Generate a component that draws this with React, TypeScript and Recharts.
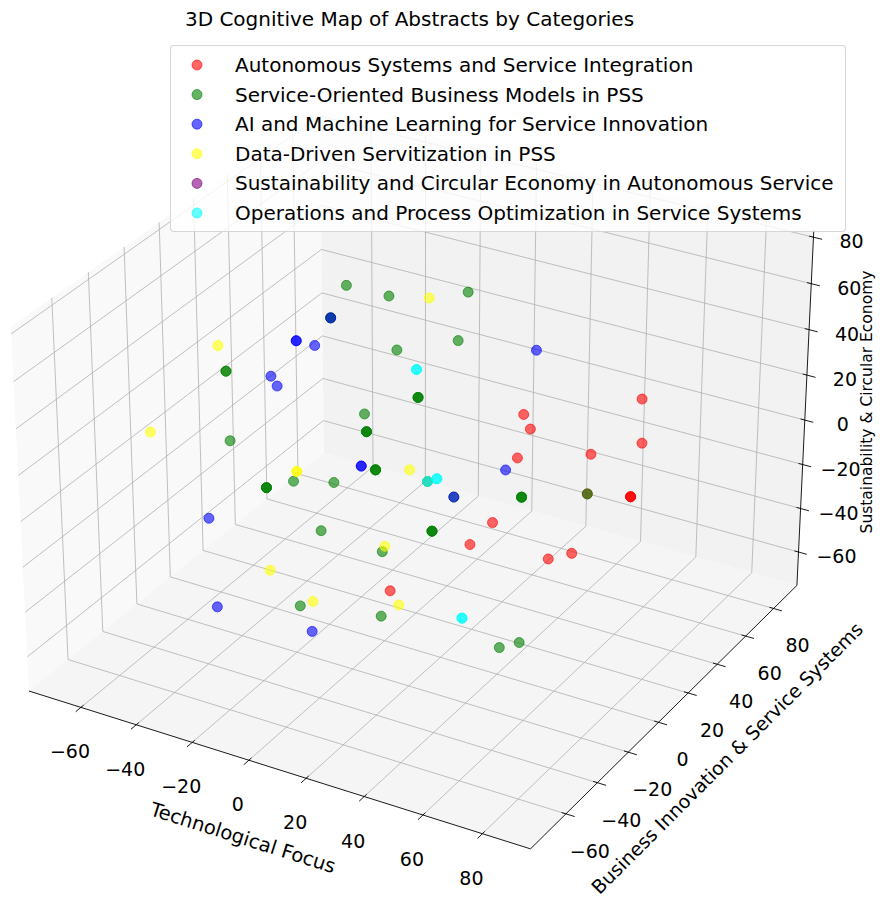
import React from "react";
import { ScatterChart, Scatter, XAxis, YAxis, Legend } from "recharts";

const TITLE = "3D Cognitive Map of Abstracts by Categories";
const X_LABEL = "Technological Focus";
const Y_LABEL = "Business Innovation & Service Systems";
const Z_LABEL = "Sustainability & Circular Economy";

const CATEGORIES = [
  "Autonomous Systems and Service Integration",
  "Service-Oriented Business Models in PSS",
  "AI and Machine Learning for Service Innovation",
  "Data-Driven Servitization in PSS",
  "Sustainability and Circular Economy in Autonomous Service",
  "Operations and Process Optimization in Service Systems",
];
const COLORS = ["#ff0000", "#008000", "#0000ff", "#ffff00", "#800080", "#00ffff"];

type P3 = [number, number, number];

// [technological, business, sustainability]
const AUTONOMOUS: P3[] = [
  [74, 27, 42], [20, 53, 2], [41, 18, 23], [48, 80, -17], [71, 0, 33],
  [34, 23, 5], [61, 47, -17], [61, 47, -17], [61, 47, -17], [67, 6, 11],
  [51, -24, 11], [22, 15, -33], [62, -9, -10], [44, 41, -45], [17, -26, -30],
];
const SERVICE_MODELS: P3[] = [
  [-45, 55, 37], [-6, 14, 67], [-5, 62, 43], [-13, -9, 68], [-13, -9, 68],
  [-13, 31, 32], [28, -4, 69], [-43, -21, 42], [-43, -21, 42],
  [3, 16, 25], [3, 16, 25], [3, 16, 25], [-23, 28, 2],
  [5, -19, 31], [5, -19, 31], [5, -19, 31], [-64, 14, -16],
  [4, -12, 10], [4, -12, 10], [4, -12, 10], [-10, -37, 15], [-19, 2, -12],
  [-30, -20, -5], [-30, -20, -5], [-30, -20, -5],
  [26, 41, -26], [26, 41, -26], [26, 41, -26], [67, 6, 11],
  [36, -34, 8], [36, -34, 8], [36, -34, 8], [-25, 4, -37], [12, -22, -17],
  [8, -64, -16], [4, -9, -57], [61, -25, -37], [44, -6, -58], [12, 6, -3],
  [14, 19, -17],
];
const AI_ML: P3[] = [
  [-27, -6, 52], [-27, -6, 52], [-42, 30, 25], [-24, -26, 49], [-42, 7, 20],
  [12, 76, 15], [13, -36, 29], [13, -36, 29], [38, 8, 10], [14, 19, -17],
  [-29, -55, 3], [-47, -23, -63], [0, -44, -43], [-13, -9, 68],
];
const DATA_DRIVEN: P3[] = [
  [-15, 55, 41], [-40, -30, 59], [-58, -41, 22], [-10, -35, 18], [-10, -35, 18],
  [0, 16, -8], [25, -43, 3], [-36, -9, -51], [-2, -40, -33], [8, -5, -53],
];
const SUSTAINABILITY: P3[] = [];
const OPERATIONS: P3[] = [
  [7, 8, 43], [7, 8, 43], [27, -15, 16], [27, -15, 16], [12, 6, -3],
  [32, -8, -48], [32, -8, -48],
];
const SERIES = [AUTONOMOUS, SERVICE_MODELS, AI_ML, DATA_DRIVEN, SUSTAINABILITY, OPERATIONS];

const TICKS = [-60, -40, -20, 0, 20, 40, 60, 80];
const XLIM: [number, number] = [-79, 96];
const YLIM: [number, number] = [-82, 97];
const ZLIM: [number, number] = [-75.5, 83];

const W = 880;
const H = 905;
const FONT = "DejaVu Sans";

// perspective view like a default 3d axes (elev 30, azim -60)
const ELEV = 30;
const AZIM = -60;
const DIST = 10;
const BOX = (() => {
  const a = [4, 4, 3];
  const k = (1.8294640721620434 * 25) / 24 / Math.hypot(...a);
  return a.map((v) => v * k);
})();
const er = (ELEV * Math.PI) / 180;
const ar = (AZIM * Math.PI) / 180;
const VW = [Math.cos(er) * Math.cos(ar), Math.cos(er) * Math.sin(ar), Math.sin(er)];
const un = Math.hypot(VW[0], VW[1]);
const VU = [-VW[1] / un, VW[0] / un, 0];
const VV = [
  VW[1] * VU[2] - VW[2] * VU[1],
  VW[2] * VU[0] - VW[0] * VU[2],
  VW[0] * VU[1] - VW[1] * VU[0],
];
const dot = (a: number[], b: number[]) => a[0] * b[0] + a[1] * b[1] + a[2] * b[2];

function project([x, y, z]: P3): [number, number] {
  const q = [
    ((x - XLIM[0]) / (XLIM[1] - XLIM[0]) - 0.5) * BOX[0],
    ((y - YLIM[0]) / (YLIM[1] - YLIM[0]) - 0.5) * BOX[1],
    ((z - ZLIM[0]) / (ZLIM[1] - ZLIM[0]) - 0.5) * BOX[2],
  ];
  const den = DIST - dot(VW, q);
  return [dot(VU, q) / den, dot(VV, q) / den];
}

// projected plane -> page pixels
const SX = 4826;
const SY = 4650;
const OX = 420.05;
const OY = 461.4;
const X_DOMAIN: [number, number] = [-OX / SX, (W - OX) / SX];
const Y_DOMAIN: [number, number] = [(OY - H) / SY, OY / SY];
const pt = (p: P3): [number, number] => {
  const [u, v] = project(p);
  return [OX + SX * u, OY - SY * v];
};

function Box3D() {
  const [x0, x1] = XLIM;
  const [y0, y1] = YLIM;
  const [z0, z1] = ZLIM;
  const dx = (x1 - x0) / 12;
  const dy = (y1 - y0) / 12;
  const poly = (pts: P3[], fill: string) => (
    <polygon points={pts.map((p) => pt(p).join(",")).join(" ")} fill={fill} />
  );
  const els: React.ReactNode[] = [];
  let k = 0;
  const seg = (a: P3, b: P3, stroke: string, sw: number) => {
    const [ax, ay] = pt(a);
    const [bx, by] = pt(b);
    els.push(<line key={k++} x1={ax} y1={ay} x2={bx} y2={by} stroke={stroke} strokeWidth={sw} />);
  };
  const grid = "#b0b0b0";
  for (const t of TICKS) {
    seg([t, y0, z0], [t, y1, z0], grid, 0.8);
    seg([t, y1, z0], [t, y1, z1], grid, 0.8);
    seg([x0, t, z0], [x1, t, z0], grid, 0.8);
    seg([x0, t, z0], [x0, t, z1], grid, 0.8);
    seg([x0, y0, t], [x0, y1, t], grid, 0.8);
    seg([x0, y1, t], [x1, y1, t], grid, 0.8);
  }
  seg([x0, y0, z0], [x1, y0, z0], "#000", 0.9);
  seg([x1, y0, z0], [x1, y1, z0], "#000", 0.9);
  seg([x1, y1, z0], [x1, y1, z1], "#000", 0.9);
  for (const t of TICKS) {
    seg([t, y0 - 0.2 * dy, z0], [t, y0 + 0.1 * dy, z0], "#000", 0.9);
    seg([x1 + 0.2 * dx, t, z0], [x1 - 0.1 * dx, t, z0], "#000", 0.9);
    seg([x1 + 0.2 * dx, y1, t], [x1 - 0.1 * dx, y1, t], "#000", 0.9);
  }
  const lab = (t: number) => (t < 0 ? `\u2212${-t}` : `${t}`);
  const tickText = (p: P3, ox: number, oy: number, t: number, key: string) => {
    const [x, y] = pt(p);
    return (
      <text key={key} x={x + ox} y={y + oy} textAnchor="middle" dominantBaseline="central"
        fontSize={19} fontFamily={FONT} fill="#000">
        {lab(t)}
      </text>
    );
  };
  return (
    <svg width={W} height={H} style={{ position: "absolute", left: 0, top: 0 }}>
      {poly([[x0, y0, z0], [x0, y1, z0], [x0, y1, z1], [x0, y0, z1]], "#f9f9f9")}
      {poly([[x0, y1, z0], [x1, y1, z0], [x1, y1, z1], [x0, y1, z1]], "#f2f2f2")}
      {poly([[x0, y0, z0], [x1, y0, z0], [x1, y1, z0], [x0, y1, z0]], "#f5f5f5")}
      {els}
      {TICKS.map((t) => tickText([t, y0, z0], -11, 44, t, `x${t}`))}
      {TICKS.map((t) => tickText([x1, t, z0], 24, 37, t, `y${t}`))}
      {TICKS.map((t) => tickText([x1, y1, t], 38, 4, t, `z${t}`))}
      <text x={409.5} y={19} textAnchor="middle" dominantBaseline="central" fontSize={20} fontFamily={FONT} fill="#000">
        {TITLE}
      </text>
      <text x={243} y={838} textAnchor="middle" dominantBaseline="central" fontSize={19.5} fontFamily={FONT}
        fill="#000" transform="rotate(17.6 243 838)">
        {X_LABEL}
      </text>
      <text x={727} y={758} textAnchor="middle" dominantBaseline="central" fontSize={19} fontFamily={FONT}
        fill="#000" transform="rotate(-45 727 758)">
        {Y_LABEL}
      </text>
      <text x={867} y={402} textAnchor="middle" dominantBaseline="central" fontSize={15.5} fontFamily={FONT}
        fill="#000" transform="rotate(-90 867 402)">
        {Z_LABEL}
      </text>
    </svg>
  );
}

function LegendBox(props: any) {
  const payload: any[] = props?.payload ?? [];
  const items = CATEGORIES.map((c, i) => {
    const e = payload.find((p) => p?.value === c);
    return { name: c, color: e?.color ?? COLORS[i] };
  });
  return (
    <div
      style={{
        width: 676, height: 187, boxSizing: "border-box", position: "relative",
        border: "1px solid rgba(204,204,204,0.8)", borderRadius: 4, background: "rgba(255,255,255,0.8)",
      }}
    >
      <svg width={676} height={187} style={{ position: "absolute", left: -1, top: -1 }}>
        {items.map((it, i) => (
          <g key={it.name}>
            <circle cx={27} cy={20 + i * 29.6} r={5} fill={it.color} fillOpacity={0.6}
              stroke={it.color} strokeOpacity={0.6} strokeWidth={1} />
            <text x={65} y={20 + i * 29.6} dominantBaseline="central" fontSize={20} fontFamily={FONT} fill="#000">
              {it.name}
            </text>
          </g>
        ))}
      </svg>
    </div>
  );
}

const dotShape = (color: string) => (p: any) => (
  <circle cx={p.cx} cy={p.cy} r={5} fill={color} fillOpacity={0.6}
    stroke={color} strokeOpacity={0.6} strokeWidth={1} />
);

export default function App() {
  const data = SERIES.map((s) =>
    s.map((p) => {
      const [u, v] = project(p);
      return { u, v, x: p[0], y: p[1], z: p[2] };
    })
  );
  return (
    <div style={{ position: "absolute", left: 0, top: 0, width: W, height: H, background: "#fff", fontFamily: FONT }}>
      <Box3D />
      <div style={{ position: "absolute", left: 0, top: 0 }}>
        <ScatterChart width={W} height={H} margin={{ top: 0, right: 0, bottom: 0, left: 0 }}>
          <XAxis type="number" dataKey="u" domain={X_DOMAIN} allowDataOverflow hide />
          <YAxis type="number" dataKey="v" domain={Y_DOMAIN} allowDataOverflow hide />
          {SERIES.map((_, i) => (
            <Scatter key={CATEGORIES[i]} name={CATEGORIES[i]} data={data[i]} fill={COLORS[i]}
              shape={dotShape(COLORS[i])} isAnimationActive={false} />
          ))}
          <Legend layout="vertical" align="center" verticalAlign="middle" content={LegendBox}
            wrapperStyle={{ position: "absolute", left: 170, top: 45, width: 676, height: 187 }} />
        </ScatterChart>
      </div>
    </div>
  );
}
